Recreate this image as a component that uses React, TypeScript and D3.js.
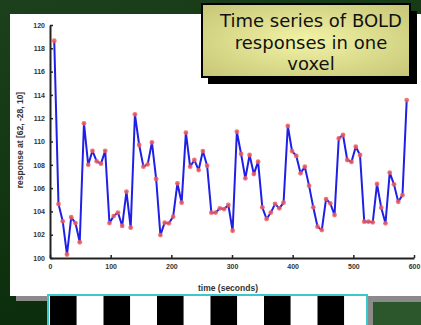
import { useRef, useEffect } from "react";
import * as d3 from "d3";

// sample times (s) and BOLD response
const times = [
  7, 14, 21, 28, 35, 42, 49, 56, 63, 70, 77, 84, 91, 98, 105, 112, 119, 126, 133, 140,
  147, 154, 161, 168, 175, 182, 189, 196, 203, 210, 217, 224, 231, 238, 245, 252, 259, 266, 273, 280,
  287, 294, 301, 308, 315, 322, 329, 336, 343, 350, 357, 364, 371, 378, 385, 392, 399, 406, 413, 420,
  427, 434, 441, 448, 455, 462, 469, 476, 483, 490, 497, 504, 511, 518, 525, 532, 539, 546, 553, 560,
  567, 574, 581, 588,
];
const response = [
  118.65, 104.63, 103.15, 100.3, 103.5, 103.0, 101.35, 111.56, 108.0, 109.2,
  108.3, 108.1, 109.2, 103.0, 103.6, 103.9, 102.75, 105.7, 102.6, 112.33,
  109.7, 107.84, 108.04, 109.93, 106.78, 101.97, 103.03, 102.98, 103.55, 106.41,
  104.75, 110.76, 107.84, 108.41, 107.55, 109.18, 107.92, 103.89, 103.9, 104.26,
  104.2, 104.55, 102.34, 110.84, 108.93, 106.84, 108.84, 107.2, 108.27, 104.35,
  103.35, 103.9, 104.65, 104.26, 104.75, 111.33, 109.18, 108.76, 107.27, 107.84,
  106.21, 104.35, 102.69, 102.4, 105.06, 104.69, 103.69, 110.27, 110.56, 108.41,
  108.25, 109.55, 108.84, 103.12, 103.12, 103.06, 106.35, 104.32, 102.98, 107.33,
  106.32, 104.83, 105.4, 113.56,
];
const xTicks = [0, 100, 200, 300, 400, 500, 600];
const yTicks = [100, 102, 104, 106, 108, 110, 112, 114, 116, 118, 120];
const design = ["on", "off", "on", "off", "on", "off", "on", "off", "on", "off", "on", "off"];
const titleLines = ["Time series of BOLD", "responses in one", "voxel"];

const W = 421;
const H = 325;

export default function App() {
  const ref = useRef<SVGSVGElement>(null);

  useEffect(() => {
    const svg = d3.select(ref.current);
    svg.selectAll("*").remove();

    const defs = svg.append("defs");
    const bg = defs.append("linearGradient").attr("id", "bg").attr("x1", 0).attr("y1", 0).attr("x2", 0.3).attr("y2", 1);
    bg.append("stop").attr("offset", 0).attr("stop-color", "#1c401c");
    bg.append("stop").attr("offset", 1).attr("stop-color", "#0a2c0a");
    const yel = defs.append("radialGradient").attr("id", "yel").attr("cx", 0.5).attr("cy", 0.5).attr("r", 0.7);
    yel.append("stop").attr("offset", 0).attr("stop-color", "#f3f3a6");
    yel.append("stop").attr("offset", 1).attr("stop-color", "#c6c676");
    defs.append("clipPath").attr("id", "stripeClip")
      .append("rect").attr("x", 49).attr("y", 296).attr("width", 317).attr("height", 30);

    // slide background
    svg.append("rect").attr("width", W).attr("height", H).attr("fill", "url(#bg)");

    // white figure panel + shadow
    svg.append("rect").attr("x", 16).attr("y", 19).attr("width", W).attr("height", 282).attr("fill", "#8a8a8a");
    svg.append("rect").attr("x", 10).attr("y", 14).attr("width", W).attr("height", 282).attr("fill", "#fff");

    // bottom-right thumbnail
    svg.append("rect").attr("x", 367).attr("y", 296).attr("width", 60).attr("height", 30).attr("fill", "#8a8a8a");
    svg.append("rect").attr("x", 373).attr("y", 302).attr("width", 60).attr("height", 30).attr("fill", "#2c572c");

    const x = d3.scaleLinear().domain([0, 600]).range([50, 414]);
    const y = d3.scaleLinear().domain([100, 120]).range([258, 25]);

    const tickFont = (g: any) =>
      g.selectAll("text")
        .attr("font-family", "'Liberation Sans', Arial, sans-serif")
        .attr("font-weight", "bold")
        .attr("font-size", 7)
        .attr("fill", "#333");

    const gx = svg.append("g").attr("transform", `translate(0,${y(100)})`)
      .call(d3.axisBottom(x).tickValues(xTicks).tickSizeInner(-3).tickSizeOuter(0).tickPadding(6));
    gx.call(tickFont);
    gx.select(".domain").attr("stroke", "#222").attr("stroke-width", 2);
    gx.selectAll(".tick line").attr("stroke", "#222").attr("stroke-width", 1.5);

    const gy = svg.append("g").attr("transform", `translate(${x(0)},0)`)
      .call(d3.axisLeft(y).tickValues(yTicks).tickSizeInner(-3).tickSizeOuter(0).tickPadding(5));
    gy.call(tickFont);
    gy.select(".domain").attr("stroke", "#222").attr("stroke-width", 2);
    gy.selectAll(".tick line").attr("stroke", "#222").attr("stroke-width", 1.5);

    // axis labels
    svg.append("text")
      .attr("x", 228).attr("y", 291)
      .attr("text-anchor", "middle")
      .attr("font-family", "'Liberation Sans', Arial, sans-serif")
      .attr("font-weight", "bold").attr("font-size", 8.5).attr("fill", "#333")
      .text("time (seconds)");
    svg.append("text")
      .attr("transform", "translate(23,140) rotate(-90)")
      .attr("text-anchor", "middle")
      .attr("font-family", "'Liberation Sans', Arial, sans-serif")
      .attr("font-weight", "bold").attr("font-size", 8.5).attr("fill", "#333")
      .text("response at [62, -28, 10]");

    // series
    const pts = times.map((t, i) => [t, response[i]] as [number, number]);
    const line = d3.line<[number, number]>().x((d) => x(d[0])).y((d) => y(d[1]));
    svg.append("path").datum(pts).attr("d", line).attr("fill", "none")
      .attr("stroke", "#1f1fe6").attr("stroke-width", 2).attr("stroke-linejoin", "round");
    svg.append("g").selectAll("circle").data(pts).join("circle")
      .attr("cx", (d) => x(d[0])).attr("cy", (d) => y(d[1])).attr("r", 2.4)
      .attr("fill", "#f05a5a").attr("fill-opacity", 0.85);

    // title box
    svg.append("rect").attr("x", 208).attr("y", 11).attr("width", 209).attr("height", 73).attr("fill", "#000");
    svg.append("rect").attr("x", 202).attr("y", 4).attr("width", 208).attr("height", 73)
      .attr("fill", "url(#yel)").attr("stroke", "#000").attr("stroke-width", 2);
    svg.append("g").selectAll("text").data(titleLines).join("text")
      .attr("x", 311).attr("y", (_, i) => 27 + i * 21.5)
      .attr("text-anchor", "middle")
      .attr("font-family", "'DejaVu Sans', Verdana, sans-serif")
      .attr("font-size", 18).attr("fill", "#111")
      .text((d) => d);

    // stimulus design strip
    const band = d3.scaleBand().domain(design.map((_, i) => String(i))).range([50, 371]);
    svg.append("rect").attr("x", 48).attr("y", 295).attr("width", 319).attr("height", 34)
      .attr("fill", "#fff").attr("stroke", "#3cc8c8").attr("stroke-width", 2);
    svg.append("g").attr("clip-path", "url(#stripeClip)")
      .selectAll("rect").data(design).join("rect")
      .attr("x", (_, i) => band(String(i))!).attr("y", 296)
      .attr("width", band.bandwidth()).attr("height", 30)
      .attr("fill", (d) => (d === "on" ? "#000" : "#fff"));
  }, []);

  return (
    <svg ref={ref} width={W} height={H} style={{ position: "absolute", left: 0, top: 0 }} />
  );
}
